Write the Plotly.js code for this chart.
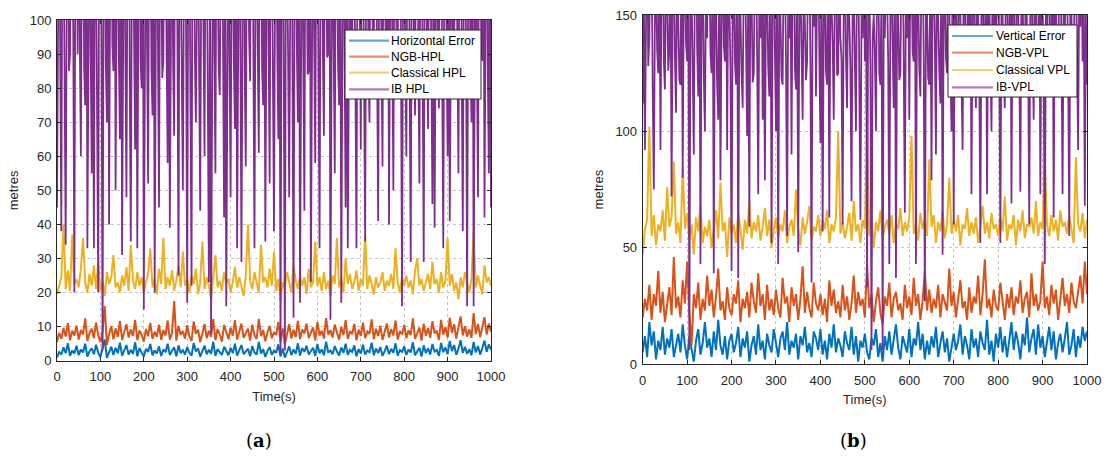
<!DOCTYPE html>
<html>
<head>
<meta charset="utf-8">
<script src="https://cdn.plot.ly/plotly-3.0.1.min.js"></script>
<style>html,body{margin:0;padding:0;background:#fff;}#chart{width:1106px;height:457px;}</style>
</head>
<body>
<div id="chart"></div>
<script>
// ---- Data ----
const sampleStep = 5;     // s, for error / NGB / classical series
const ibSampleStep = 2.5; // s, for IB series
const xTicks = [0,100,200,300,400,500,600,700,800,900,1000];
const yTicksA = [0,10,20,30,40,50,60,70,80,90,100];
const yTicksB = [0,50,100,150];

// (a) horizontal
const horizontalError = [
1.0,2.5,1.8,3.9,2.2,5.1,1.4,3.0,2.1,4.4,
1.6,3.3,2.4,5.0,1.2,2.8,3.6,1.9,4.7,2.3,
1.1,3.4,6.2,0.8,2.6,4.1,1.7,3.8,2.2,5.3,
1.5,2.9,4.6,1.8,3.2,2.0,5.4,1.3,3.7,2.4,
1.2,3.5,2.6,4.9,1.6,3.0,2.1,4.2,1.4,3.3,
2.5,5.0,1.7,2.9,3.9,1.3,4.5,2.2,3.1,1.8,
4.0,2.3,1.5,5.2,2.7,3.6,1.2,2.8,4.4,1.9,
3.2,2.0,5.6,1.4,3.4,2.5,1.7,4.1,2.9,1.6,
3.8,2.2,5.0,1.5,3.1,4.6,1.9,2.7,3.5,1.3,
4.3,2.4,1.8,5.5,2.1,3.4,1.1,2.9,4.0,1.7,
3.0,2.3,4.8,1.2,3.6,0.9,2.5,4.2,1.6,3.3,
2.0,5.1,1.5,3.7,2.6,4.4,1.8,2.9,3.8,1.4,
4.9,2.2,3.3,1.6,5.6,2.4,3.0,1.9,4.3,2.7,
1.5,3.9,2.3,5.0,1.7,3.2,2.6,4.5,1.3,3.4,
2.1,4.7,1.8,3.0,2.5,5.3,1.6,3.6,2.2,4.0,
1.4,2.8,4.4,1.9,3.5,2.3,5.1,1.5,3.1,2.6,
4.2,1.7,3.3,2.4,5.4,1.6,2.9,3.8,1.2,4.5,
2.2,3.6,1.8,4.9,2.7,3.2,1.4,5.2,2.5,3.9,
1.9,5.8,2.8,4.6,1.7,3.5,6.0,2.3,4.1,2.0,
3.4,1.6,5.5,2.4,4.3,1.8,3.7,5.9,2.6,4.8,
3.2];
const ngbHPL = [
5.5,8.2,6.4,9.6,7.1,11.0,6.0,8.8,7.4,10.3,
6.2,9.0,7.7,12.4,5.8,8.1,9.4,6.6,11.2,7.5,
5.4,8.6,16.0,4.6,7.8,10.1,6.3,9.5,7.0,11.6,
6.1,8.4,10.7,6.8,9.2,7.3,12.0,6.0,8.9,7.6,
5.6,9.3,7.2,11.1,6.4,8.5,7.0,10.6,6.1,9.0,
7.4,11.8,6.2,8.2,17.5,5.9,10.2,7.6,8.7,6.5,
10.4,7.1,5.8,11.5,7.9,9.1,5.5,8.0,10.8,6.6,
8.8,7.0,12.2,6.0,9.3,7.7,5.6,10.5,8.1,6.3,
9.7,7.3,11.9,6.2,8.6,10.9,6.7,8.0,9.4,5.9,
10.6,7.5,6.4,12.3,7.2,9.0,5.7,8.3,10.2,6.6,
8.4,7.6,11.4,5.5,9.5,4.8,7.9,10.7,6.5,9.1,
7.0,11.7,6.3,9.2,8.0,10.9,6.6,8.4,9.8,6.0,
11.3,7.4,8.8,6.5,12.5,7.6,9.0,6.8,10.6,8.2,
6.2,9.9,7.5,11.9,6.4,8.7,7.8,10.8,6.0,9.1,
7.3,11.2,6.6,8.6,7.9,12.1,6.3,9.4,7.2,10.3,
6.1,8.5,10.9,6.8,9.3,7.4,11.8,6.2,8.7,7.7,
10.5,6.6,8.9,7.5,12.4,6.4,8.1,9.7,5.9,10.9,
7.3,9.6,6.7,11.6,8.0,8.8,6.1,12.0,7.6,9.9,
6.8,12.6,8.2,10.7,6.5,9.3,13.0,7.4,10.1,7.1,
9.2,6.7,14.0,7.8,10.8,6.9,9.6,12.8,7.7,10.9,
8.5];
const classicalHPL = [
19.5,22.0,24.5,40.0,21.0,26.5,20.5,37.0,22.5,24.0,
21.5,27.0,36.0,23.0,20.0,25.5,22.0,28.0,21.0,29.0,
20.5,23.5,19.0,26.0,22.5,24.5,31.0,21.5,23.0,20.0,
25.0,22.0,27.5,20.5,34.0,23.5,21.0,26.0,22.0,24.5,
20.0,23.0,25.5,33.0,21.5,24.0,19.5,27.0,22.5,36.0,
21.0,24.5,22.0,26.5,20.5,23.5,28.0,21.5,32.0,22.0,
24.0,20.0,25.0,22.5,27.0,19.5,23.0,35.0,21.0,24.5,
22.0,18.0,25.5,31.0,21.5,23.5,20.5,26.0,22.5,24.0,
20.0,23.0,27.5,21.5,24.5,22.0,19.0,25.0,40.0,23.5,
21.0,26.0,22.5,20.0,34.0,23.0,24.5,21.5,27.0,22.0,
32.0,20.5,24.0,17.5,23.0,21.5,26.0,22.5,20.0,28.0,
23.5,21.0,25.0,22.0,24.5,19.5,27.0,21.5,23.0,35.0,
22.0,24.5,20.5,26.0,21.0,23.5,19.0,25.0,22.5,36.0,
21.5,24.0,20.0,30.0,22.5,25.5,21.0,23.0,26.5,20.5,
24.0,22.0,37.0,21.0,25.0,22.5,19.5,24.5,21.5,23.0,
26.0,20.5,23.5,22.0,25.5,21.0,33.0,23.0,20.0,24.5,
22.0,25.0,21.5,23.5,19.5,26.5,30.0,22.0,24.0,20.5,
23.0,25.5,21.0,29.0,22.5,24.0,20.0,26.0,21.5,23.5,
36.0,22.0,25.5,20.5,23.0,18.0,24.5,21.5,26.0,22.5,
20.0,24.0,38.0,21.5,25.0,22.0,19.5,28.0,23.0,24.5,
22.0];
const ibHPL = [
45,120,150,88,38,140,130,92,34,110,180,85,90,150,125,96,20,135,160,90,
140,94,60,125,170,86,75,160,33,115,145,91,55,130,33,140,120,82,20,150,
135,95,3,120,150,87,70,145,40,130,190,93,85,160,50,110,130,89,65,140,
31,125,160,90,48,150,200,84,35,115,140,96,62,135,33,120,175,88,80,145,
15,130,150,92,52,140,135,86,72,160,20,110,160,95,45,125,125,83,88,150,
140,90,58,130,39,120,150,87,66,155,170,93,25,140,120,85,50,115,145,94,
17,125,130,88,22,150,160,91,70,135,140,84,44,120,185,96,60,145,130,89,
23,110,8,130,150,92,55,140,120,86,78,155,165,94,42,125,16,135,140,90,
48,120,130,87,68,150,33,115,150,93,29,140,170,85,57,130,135,96,82,160,
150,89,33,120,125,91,61,145,140,86,75,130,35,125,160,94,52,140,130,88,
38,115,145,92,65,130,2,110,150,85,3,125,120,90,48,140,170,87,12.6,120,
140,93,70,135,17,120,160,88,44,145,130,84,85,150,23,115,150,95,58,130,
140,86,33,125,170,91,66,140,125,89,90,155,12,120,150,94,55,135,135,87,
75,130,17,115,160,93,45,140,33,125,140,88,80,150,120,85,33,130,155,92,
62,135,130,90,35,120,175,86,70,145,140,94,88,160,145,89,41,125,160,91,
57,140,130,87,78,150,40,115,165,92,50,130,140,88,85,155,150,93,16,120,
125,90,60,140,150,85,29,120,135,94,72,145,170,89,52,130,140,86,29,125,
155,92,68,135,130,88,46,125,39,140,160,91,74,150,140,87,33,120,180,93,
60,130,41,125,150,89,85,140,130,92,55,135,170,86,38,120,140,94,16,115,
130,90,70,145,16,125,155,88,48,135,140,93,88,150,42,125,160,87,55,130,
45];

// (b) vertical
const verticalError = [
5,12,3,18,8,14,2,10,6,16,
4,11,7,15,3,9,13,5,17,8,
2,12,6,1,10,15,4,9,18,7,
11,3,14,6,19,8,4,12,2,10,
13,5,9,16,3,11,7,14,1,8,
12,4,17,6,10,2,13,8,5,15,
9,3,11,14,6,18,4,10,7,13,
2,12,8,16,5,9,3,14,11,6,
15,4,10,2,13,7,17,5,11,8,
3,14,9,6,16,4,12,1,10,7,
13,5,2,11,8,15,3,9,1,12,
6,14,4,10,17,7,2,12,9,5,
15,3,11,8,18,6,13,2,10,4,
12,7,16,3,9,14,5,11,1,8,
13,6,10,17,4,12,8,2,15,7,
11,3,14,9,6,19,4,10,1,13,
7,16,5,12,3,10,18,6,14,9,
2,13,8,20,5,11,15,4,17,7,
12,3,10,16,6,14,2,9,13,5,
11,18,4,8,15,3,12,7,16,10,
14];
const ngbVPL = [
20,28,23,34,19,30,25,40,22,31,
18,27,33,21,46,24,29,20,36,26,
44,22,8,30,24,35,19,28,23,38,
25,32,20,29,41,23,27,19,33,24,
21,30,26,36,18,28,24,31,20,35,
27,22,39,25,30,19,34,23,28,21,
32,24,20,37,26,29,18,33,25,30,
19,28,42,22,31,24,20,35,26,23,
30,21,28,18,36,25,32,22,27,20,
34,23,29,19,26,38,22,31,25,28,
20,43,24,30,18,27,33,22,17,29,
25,35,20,28,31,23,26,19,34,24,
29,21,37,25,30,19,27,40,23,32,
22,28,24,34,20,30,26,23,41,25,
31,20,28,36,24,27,19,33,22,29,
26,38,21,30,45,24,28,20,32,25,
23,35,27,19,30,24,33,21,29,26,
36,22,28,31,20,39,25,30,23,27,
44,24,29,21,34,26,32,19,28,37,
25,30,22,35,27,24,31,38,26,44,
30];
const classicalVPL = [
47,58,62,102,55,64,51,60,57,66,
53,76,59,63,87,56,61,52,85,58,
65,54,60,47,63,57,68,52,59,55,
62,50,58,66,54,78,57,61,46,63,
56,60,52,65,58,49,62,56,70,54,
61,57,64,53,59,67,55,62,50,58,
63,54,60,57,66,52,59,62,55,75,
58,51,63,56,61,68,53,59,57,64,
55,62,58,66,52,60,57,63,100,56,
61,54,59,65,53,70,57,60,52,62,
58,98,55,63,50,61,57,66,54,59,
62,56,64,52,60,58,67,55,61,57,
63,98,56,60,53,65,58,62,55,88,
59,64,52,61,57,66,54,60,80,56,
62,57,64,51,60,58,67,55,61,56,
63,52,59,68,56,61,54,65,58,60,
55,63,57,72,53,60,58,64,51,62,
57,66,54,60,59,63,56,70,55,61,
58,89,60,55,64,57,62,53,66,59,
61,56,64,58,52,89,60,57,65,54,
62];
const ibVPL = [
112,160,92,175,200,128,140,190,180,118,75,150,170,135,125,180,92,165,210,130,
118,170,160,126,135,180,72,155,190,132,108,165,150,122,120,185,80,160,175,138,
130,175,6,150,160,128,90,170,200,136,115,180,43,155,170,124,100,165,140,190,
185,133,125,175,39,160,160,120,105,170,79,150,180,137,130,190,92,165,155,127,
40,155,170,130,120,180,37,150,150,125,110,170,190,139,98,160,59,175,160,121,
125,175,180,134,73,160,140,190,105,165,79,155,165,128,115,180,52,150,190,136,
100,165,43,155,150,123,120,180,175,131,55,160,140,170,90,175,200,127,118,165,
48,150,165,135,105,170,150,122,130,185,178,129,35,155,145,190,115,160,190,133,
95,170,57,150,170,126,120,175,63,160,155,138,105,165,180,124,125,185,140,131,
60,160,175,132,110,170,150,127,70,155,160,135,100,175,185,121,62,150,140,180,
130,170,33,155,165,128,6,140,150,133,100,170,175,125,120,160,6,150,140,175,
160,130,43,155,170,136,110,175,37,150,150,122,125,180,190,129,65,165,140,185,
105,170,175,134,130,185,43,160,160,127,115,175,185,131,27,150,150,123,120,170,
79,165,170,138,90,175,140,126,112,180,47,155,165,132,125,175,155,128,100,170,
60,160,175,124,130,180,150,135,92,170,160,129,115,185,135,170,73,155,185,130,
110,175,150,127,52,160,170,133,125,180,73,155,160,121,100,170,145,190,120,165,
175,137,52,155,150,126,110,170,165,131,128,185,69,160,180,124,115,175,150,132,
74,165,160,128,120,180,140,134,60,155,170,125,105,175,150,130,135,185,73,160,
155,127,43,150,120,175,170,133,130,180,63,160,160,122,115,170,190,136,73,155,
140,180,165,129,55,160,150,125,120,175,175,134,92,165,145,190,130,170,68,150,
120];

const namesA = ['Horizontal Error','NGB-HPL','Classical HPL','IB HPL'];
const namesB = ['Vertical Error','NGB-VPL','Classical VPL','IB-VPL'];
const colors = ['#0072BD','#D95319','#EDB120','#7E2F8E'];
const legendColors = ['#5FA7DA','#EB8E66','#F4CF78','#B27DBF'];

const time = horizontalError.map((_, i) => i * sampleStep);
const timeIB = ibHPL.map((_, i) => i * ibSampleStep);

const seriesA = [horizontalError, ngbHPL, classicalHPL, ibHPL];
const seriesB = [verticalError, ngbVPL, classicalVPL, ibVPL];
const widths = [2.0, 2.0, 2.0, 1.8];

const traces = [];
seriesA.forEach((ys, k) => traces.push({
  x: k === 3 ? timeIB : time, y: ys, type: 'scatter', mode: 'lines', name: namesA[k],
  line: {color: colors[k], width: widths[k]}, xaxis: 'x', yaxis: 'y', showlegend: false
}));
seriesB.forEach((ys, k) => traces.push({
  x: k === 3 ? timeIB : time, y: ys, type: 'scatter', mode: 'lines', name: namesB[k],
  line: {color: colors[k], width: widths[k]}, xaxis: 'x2', yaxis: 'y2', showlegend: false
}));

const W = 1106, H = 457;
const FAM = 'Liberation Sans, Arial, Helvetica, sans-serif';
const font = {family: FAM, size: 13, color: '#262626'};
function axis(extra) {
  return Object.assign({
    showline: true, mirror: 'ticks', linecolor: '#262626', linewidth: 1,
    ticks: 'inside', ticklen: 4, tickcolor: '#262626',
    showgrid: true, gridcolor: '#c4c4c4', griddash: 'dot', gridwidth: 1,
    zeroline: false, automargin: false, tickfont: font
  }, extra);
}
const px = (x) => x / W;
const py = (y) => 1 - y / H;

// custom legend boxes (matching reference geometry)
const shapes = [];
const annotations = [];
function addLegend(box, lineX0, lineX1, textX, rowsY, names) {
  shapes.push({type: 'rect', xref: 'paper', yref: 'paper', x0: px(box[0]), x1: px(box[1]), y0: py(box[3]), y1: py(box[2]),
    line: {color: '#262626', width: 1}, fillcolor: '#fff', layer: 'above'});
  names.forEach((n, k) => {
    shapes.push({type: 'line', xref: 'paper', yref: 'paper', x0: px(lineX0), x1: px(lineX1), y0: py(rowsY[k]), y1: py(rowsY[k]),
      line: {color: legendColors[k], width: 2.2}, layer: 'above'});
    annotations.push({text: n, xref: 'paper', yref: 'paper', x: px(textX), y: py(rowsY[k]), xanchor: 'left', yanchor: 'middle',
      showarrow: false, font: {family: FAM, size: 12, color: '#000'}});
  });
}
addLegend([345, 481, 30, 99], 349, 389, 389, [40.7, 56.7, 72.7, 89.3], namesA);
addLegend([948, 1077, 25, 97], 952, 993, 994, [36, 52.7, 70, 87.3], namesB);

annotations.push(
  {text: '(<b>a</b>)', xref: 'paper', yref: 'paper', x: px(259), y: py(440), xanchor: 'center', yanchor: 'middle',
   showarrow: false, font: {family: 'DejaVu Serif, Liberation Serif, serif', size: 18, color: '#000'}},
  {text: '(<b>b</b>)', xref: 'paper', yref: 'paper', x: px(853), y: py(440), xanchor: 'center', yanchor: 'middle',
   showarrow: false, font: {family: 'DejaVu Serif, Liberation Serif, serif', size: 18, color: '#000'}}
);

const titleFont = {family: FAM, size: 13, color: '#262626'};
const layout = {
  width: W, height: H,
  margin: {l: 0, r: 0, t: 0, b: 0},
  paper_bgcolor: '#fff', plot_bgcolor: '#fff',
  font: font,
  showlegend: false,
  xaxis: axis({domain: [px(57), px(491)], range: [0, 1000], tickvals: xTicks, anchor: 'y', ticklabelstandoff: 4,
    title: {text: 'Time(s)', font: titleFont, standoff: 8}}),
  yaxis: axis({domain: [py(360.7), py(20)], range: [0, 100], tickvals: yTicksA, anchor: 'x', ticklabelstandoff: 2,
    title: {text: 'metres', font: titleFont, standoff: 8}}),
  xaxis2: axis({domain: [px(642.7), px(1087)], range: [0, 1000], tickvals: xTicks, anchor: 'y2', ticklabelstandoff: 4,
    title: {text: 'Time(s)', font: titleFont, standoff: 8}}),
  yaxis2: axis({domain: [py(364), py(15)], range: [0, 150], tickvals: yTicksB, anchor: 'x2', ticklabelstandoff: 2,
    title: {text: 'metres', font: titleFont, standoff: 8}}),
  shapes: shapes,
  annotations: annotations
};
Plotly.newPlot('chart', traces, layout, {staticPlot: true, displayModeBar: false});
</script>
</body>
</html>
